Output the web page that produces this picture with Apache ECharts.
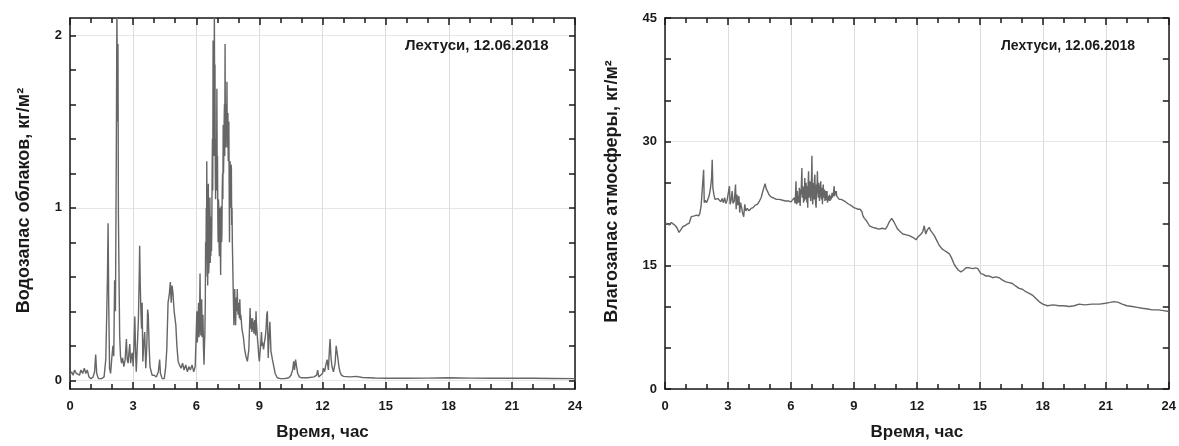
<!DOCTYPE html>
<html>
<head>
<meta charset="utf-8">
<script src="https://cdn.jsdelivr.net/npm/echarts@6/dist/echarts.min.js"></script>
<style>html,body{margin:0;padding:0;background:#fff}#c{width:1179px;height:446px}</style>
</head>
<body>
<div id="c"></div>
<script>
// ---- data (time in hours) ----
const stationLabel = 'Лехтуси, 12.06.2018';
const xAxisTitle = 'Время, час';
const lwpTitle = 'Водозапас облаков, кг/м²';
const pwvTitle = 'Влагозапас атмосферы, кг/м²';

const lwpLabelValues = [0, 1, 2];
const lwpTickValues = [0, 0.2, 0.4, 0.6, 0.8, 1.0, 1.2, 1.4, 1.6, 1.8, 2.0];

// cloud liquid water path, kg/m2
const lwpData = [
[0,0.03],[0.08,0.05],[0.15,0.03],[0.22,0.06],[0.3,0.04],[0.38,0.05],[0.45,0.03],[0.52,0.06],[0.6,0.04],[0.68,0.07],[0.75,0.04],[0.82,0.06],[0.9,0.02],[1.0,0.01],[1.1,0.02],[1.17,0.05],[1.22,0.15],[1.27,0.04],[1.35,0.01],[1.5,0.01],[1.62,0.02],[1.7,0.12],[1.74,0.35],[1.78,0.6],[1.81,0.91],[1.84,0.45],[1.88,0.07],[1.93,0.04],[1.98,0.12],[2.04,0.2],[2.08,0.14],[2.12,0.58],[2.16,0.4],[2.2,1.3],[2.23,2.15],[2.26,1.5],[2.28,1.95],[2.3,0.97],[2.33,0.6],[2.36,0.26],[2.4,0.14],[2.45,0.1],[2.5,0.13],[2.56,0.08],[2.62,0.12],[2.68,0.24],[2.72,0.12],[2.76,0.1],[2.8,0.16],[2.84,0.21],[2.88,0.1],[2.92,0.14],[2.96,0.16],[3.0,0.08],[3.04,0.2],[3.08,0.37],[3.12,0.15],[3.15,0.05],[3.2,0.2],[3.25,0.35],[3.29,0.6],[3.31,0.78],[3.34,0.55],[3.37,0.4],[3.4,0.3],[3.43,0.45],[3.46,0.11],[3.5,0.2],[3.55,0.28],[3.6,0.07],[3.65,0.2],[3.69,0.41],[3.72,0.38],[3.76,0.2],[3.8,0.08],[3.84,0.06],[3.9,0.03],[4.0,0.03],[4.1,0.02],[4.2,0.05],[4.26,0.12],[4.3,0.04],[4.38,0.01],[4.48,0.01],[4.55,0.08],[4.6,0.18],[4.66,0.45],[4.72,0.5],[4.77,0.57],[4.81,0.45],[4.85,0.55],[4.89,0.51],[4.95,0.4],[5.03,0.32],[5.08,0.2],[5.14,0.11],[5.2,0.09],[5.28,0.07],[5.35,0.1],[5.42,0.06],[5.5,0.09],[5.58,0.05],[5.65,0.08],[5.72,0.06],[5.8,0.09],[5.88,0.05],[5.95,0.08],[6.0,0.07],
[6.03,0.4],[6.05,0.22],[6.07,0.28],[6.09,0.36],[6.11,0.45],[6.13,0.25],[6.15,0.3],[6.18,0.62],[6.2,0.35],[6.22,0.26],[6.24,0.4],[6.26,0.47],[6.28,0.25],[6.3,0.3],[6.32,0.38],[6.34,0.2],[6.37,0.09],[6.39,0.2],[6.41,0.28],[6.43,0.45],
[6.445,0.8],[6.46,0.6],[6.475,1.0],[6.49,0.7],[6.5,1.27],[6.515,0.85],[6.53,0.75],[6.545,0.55],[6.56,0.9],[6.575,1.14],[6.59,0.62],[6.605,0.66],[6.62,0.95],[6.635,0.7],[6.65,1.06],[6.665,0.68],[6.68,0.9],[6.695,0.72],[6.71,0.95],[6.725,0.75],[6.74,0.89],[6.755,1.2],[6.77,1.4],[6.785,1.1],[6.8,1.97],[6.815,1.5],[6.83,1.6],[6.845,1.3],[6.86,2.15],[6.875,1.6],[6.89,1.83],[6.905,1.2],[6.92,1.05],[6.935,1.3],[6.95,1.4],[6.965,1.1],[6.98,1.69],[6.995,1.2],[7.01,1.3],[7.025,0.95],[7.04,0.8],[7.055,1.05],[7.07,1.01],[7.085,0.78],[7.1,0.72],[7.115,0.95],[7.13,1.0],[7.145,0.75],[7.16,0.61],[7.175,0.9],[7.19,1.01],[7.205,0.8],[7.22,0.85],[7.235,1.1],[7.25,1.2],[7.265,1.05],[7.28,1.48],[7.295,1.2],[7.31,1.3],[7.325,1.5],[7.34,1.6],[7.355,1.3],[7.37,1.95],[7.385,1.4],[7.4,1.35],[7.415,1.55],[7.43,1.6],[7.445,1.4],[7.46,1.73],[7.475,1.35],[7.49,1.4],[7.505,1.55],[7.52,1.27],[7.535,1.45],[7.55,1.5],[7.565,1.1],[7.58,0.8],[7.595,1.15],[7.61,1.27],[7.625,1.0],[7.64,1.1],[7.655,1.25],[7.67,1.23],[7.685,0.9],[7.7,1.0],[7.715,0.8],[7.73,0.7],
[7.76,0.5],[7.79,0.32],[7.81,0.45],[7.83,0.53],[7.85,0.4],[7.87,0.32],[7.89,0.42],[7.91,0.48],[7.93,0.4],[7.95,0.53],[7.97,0.42],[7.99,0.38],[8.01,0.45],[8.03,0.4],[8.05,0.36],[8.07,0.47],[8.1,0.35],[8.12,0.38],[8.17,0.3],[8.24,0.25],[8.3,0.18],[8.36,0.14],[8.43,0.11],[8.5,0.18],[8.56,0.42],[8.58,0.3],[8.6,0.3],[8.62,0.36],[8.64,0.28],[8.66,0.33],[8.68,0.36],[8.7,0.29],[8.72,0.34],[8.74,0.27],[8.76,0.28],[8.78,0.35],[8.8,0.32],[8.82,0.26],[8.84,0.4],[8.86,0.33],[8.88,0.3],[8.91,0.24],[8.94,0.2],[8.97,0.14],[9.0,0.11],[9.03,0.16],[9.06,0.2],[9.1,0.28],[9.13,0.2],[9.15,0.22],[9.2,0.18],[9.24,0.22],[9.28,0.25],[9.32,0.3],[9.35,0.38],[9.38,0.4],[9.42,0.13],[9.46,0.25],[9.5,0.34],[9.55,0.17],[9.62,0.12],[9.67,0.09],[9.75,0.04],[9.85,0.015],[10.0,0.01],[10.2,0.01],[10.4,0.015],[10.5,0.03],[10.58,0.06],[10.63,0.11],[10.67,0.06],[10.72,0.12],[10.77,0.12],[10.82,0.04],[10.9,0.02],[11.0,0.015],[11.3,0.015],[11.6,0.02],[11.72,0.03],[11.77,0.06],[11.82,0.02],[11.9,0.03],[12.0,0.04],[12.04,0.07],[12.1,0.05],[12.16,0.09],[12.22,0.12],[12.28,0.06],[12.33,0.18],[12.36,0.24],[12.4,0.14],[12.45,0.08],[12.52,0.05],[12.6,0.1],[12.65,0.2],[12.69,0.21],[12.73,0.13],[12.78,0.08],[12.83,0.05],[12.9,0.03],[13.0,0.023],[13.3,0.02],[13.6,0.023],[13.9,0.017],[14.5,0.014],[15,0.012],[16,0.012],[17,0.013],[18,0.015],[19,0.013],[20,0.012],[21,0.013],[22,0.012],[23,0.011],[24,0.01]
];

// precipitable water vapour, kg/m2
const pwvData = [
[0,20.0],[0.1,20.1],[0.2,19.9],[0.3,20.2],[0.4,20.0],[0.5,19.8],[0.58,19.5],[0.67,19.0],[0.75,19.3],[0.85,19.7],[0.95,19.8],[1.05,20.0],[1.15,20.1],[1.22,20.3],[1.25,20.9],[1.32,20.8],[1.4,21.0],[1.5,21.1],[1.6,21.0],[1.66,21.3],[1.72,22.2],[1.78,22.4],[1.84,26.6],[1.87,22.6],[1.92,22.9],[1.98,22.6],[2.04,23.0],[2.1,23.4],[2.16,24.2],[2.22,25.6],[2.25,27.8],[2.28,24.4],[2.33,23.6],[2.38,23.0],[2.45,22.8],[2.52,23.1],[2.6,23.0],[2.66,22.7],[2.72,23.1],[2.78,22.6],[2.84,23.2],[2.9,22.5],[2.96,22.9],[3.02,22.7],[3.07,24.6],[3.1,22.4],[3.15,22.9],[3.2,24.0],[3.24,22.5],[3.3,22.8],[3.36,24.8],[3.39,21.8],[3.43,23.6],[3.47,22.3],[3.52,23.4],[3.56,21.4],[3.6,22.6],[3.65,22.0],[3.7,21.3],[3.75,20.9],[3.8,22.4],[3.85,21.6],[3.92,21.9],[4.0,21.6],[4.1,21.9],[4.2,22.0],[4.3,22.3],[4.4,22.4],[4.5,22.8],[4.58,23.2],[4.65,23.9],[4.72,24.5],[4.77,24.9],[4.82,24.3],[4.88,24.0],[4.95,23.6],[5.05,23.3],[5.15,23.2],[5.3,23.0],[5.45,23.0],[5.6,22.9],[5.75,22.8],[5.9,22.8],[6.0,22.7],[6.08,22.9],[6.16,23.2],
[6.2,22.5],[6.22,23.6],[6.24,25.2],[6.26,22.8],[6.28,22.4],[6.3,24.0],[6.32,23.8],[6.34,22.6],[6.36,23.4],[6.38,22.6],[6.4,24.4],[6.42,23.0],[6.44,22.2],[6.46,24.2],[6.48,23.6],[6.5,25.0],[6.52,26.8],[6.54,23.2],[6.56,24.0],[6.58,24.6],[6.6,22.6],[6.62,23.8],[6.64,22.8],[6.66,25.6],[6.68,24.0],[6.7,23.0],[6.72,25.0],[6.74,24.2],[6.76,22.6],[6.78,24.6],[6.8,22.0],[6.82,25.0],[6.84,26.4],[6.86,23.2],[6.88,23.4],[6.9,25.2],[6.92,24.4],[6.94,22.8],[6.96,22.6],[6.98,25.6],[7.0,28.3],[7.02,23.0],[7.04,22.4],[7.06,25.0],[7.08,24.2],[7.1,23.0],[7.12,25.4],[7.14,26.0],[7.16,23.4],[7.18,22.4],[7.2,22.0],[7.22,24.8],[7.24,23.8],[7.26,26.4],[7.28,24.0],[7.3,23.2],[7.32,25.0],[7.34,24.4],[7.36,22.8],[7.38,22.6],[7.4,24.6],[7.42,25.2],[7.44,23.4],[7.46,23.0],[7.48,24.4],[7.5,22.4],[7.52,23.8],[7.54,24.8],[7.56,23.2],[7.58,23.0],[7.6,24.2],[7.62,22.8],[7.64,23.6],[7.66,24.0],[7.68,22.9],[7.7,23.2],[7.72,24.0],[7.74,22.6],[7.76,23.4],[7.78,23.0],[7.8,23.4],[7.82,22.8],[7.84,23.6],[7.86,22.8],[7.88,23.4],[7.9,23.6],[7.92,23.0],[7.94,23.2],[7.96,23.8],[7.98,23.2],[8.0,23.8],[8.02,23.4],[8.04,24.2],[8.06,24.6],[8.08,23.4],[8.1,23.2],[8.12,24.0],[8.14,23.6],[8.16,24.0],[8.18,23.4],[8.2,23.4],
[8.3,23.0],[8.4,23.0],[8.55,22.8],[8.7,22.5],[8.78,22.4],[8.9,22.2],[9.0,22.0],[9.1,21.9],[9.2,21.8],[9.3,21.8],[9.38,21.5],[9.43,21.0],[9.5,20.7],[9.6,20.4],[9.74,19.8],[9.9,19.6],[10.05,19.5],[10.2,19.4],[10.35,19.5],[10.5,19.4],[10.6,19.8],[10.67,20.2],[10.8,20.7],[10.92,20.2],[11.0,19.8],[11.08,19.4],[11.2,19.1],[11.33,18.8],[11.5,18.7],[11.64,18.6],[11.8,18.4],[11.88,18.5],[11.96,18.1],[12.04,18.4],[12.12,18.4],[12.2,18.8],[12.28,19.1],[12.35,19.8],[12.42,18.8],[12.5,19.3],[12.59,19.6],[12.66,19.2],[12.72,19.3],[12.83,18.6],[12.95,18.0],[13.07,17.4],[13.2,17.0],[13.31,16.8],[13.43,16.6],[13.55,16.4],[13.63,16.0],[13.7,15.6],[13.78,15.1],[13.86,14.8],[13.98,14.4],[14.1,14.2],[14.22,14.4],[14.34,14.7],[14.5,14.7],[14.66,14.6],[14.8,14.7],[14.9,14.6],[15.05,14.0],[15.17,13.9],[15.29,13.7],[15.45,13.7],[15.61,13.5],[15.76,13.6],[15.92,13.5],[16.08,13.2],[16.24,13.0],[16.4,12.9],[16.55,12.8],[16.7,12.5],[16.87,12.2],[17.03,12.1],[17.19,11.8],[17.35,11.6],[17.5,11.4],[17.66,11.0],[17.82,10.6],[18.0,10.3],[18.22,10.1],[18.5,10.2],[18.77,10.1],[19.0,10.1],[19.25,10.0],[19.5,10.1],[19.72,10.3],[20.0,10.2],[20.35,10.3],[20.7,10.3],[20.99,10.4],[21.2,10.5],[21.39,10.6],[21.6,10.5],[21.78,10.3],[22.0,10.1],[22.26,10.0],[22.5,9.9],[22.73,9.8],[23.0,9.7],[23.2,9.6],[23.5,9.6],[23.75,9.5],[24.0,9.4]
];

// ---- styling ----
const FONT = "'Liberation Sans', Arial, sans-serif";
const INK = '#1a1a1a';
const GRID = '#dcdcdc';
const LINE = '#666666';

function xAxisCfg(g, pos) {
  const bottom = pos === 'bottom';
  return {
    type: 'value', gridIndex: g, position: pos, min: 0, max: 24, interval: 3,
    name: bottom ? xAxisTitle : '', nameLocation: 'middle', nameGap: 35,
    nameTextStyle: { fontFamily: FONT, fontSize: 17, fontWeight: 'bold', color: INK },
    axisLine: { show: true, onZero: false, lineStyle: { color: INK, width: 1.5 } },
    axisTick: { show: true, inside: true, length: 7, lineStyle: { color: INK, width: 1.5 } },
    minorTick: { show: true, splitNumber: 3, length: 5, lineStyle: { color: INK, width: 1.5 } },
    axisLabel: { show: bottom, fontFamily: FONT, fontSize: 13, fontWeight: 'bold', color: INK, margin: 11 },
    splitLine: { show: bottom, lineStyle: { color: GRID, width: 1 } },
    minorSplitLine: { show: false }
  };
}

function yCommon(g, pos, name, gap, namePad) {
  const left = pos === 'left';
  return {
    type: 'value', gridIndex: g, position: pos,
    name: left ? name : '', nameLocation: 'middle', nameGap: gap, nameRotate: 90,
    nameTextStyle: { fontFamily: FONT, fontSize: 18, fontWeight: 'bold', color: INK, padding: namePad },
    axisLine: { show: true, onZero: false, lineStyle: { color: INK, width: 1.5 } },
    axisTick: { show: true, inside: true, length: 6, lineStyle: { color: INK, width: 1.5 } },
    axisLabel: { show: left, fontFamily: FONT, fontSize: 13, fontWeight: 'bold', color: INK, margin: 8 },
    splitLine: { show: left, lineStyle: { color: '#e6e6e6', width: 1 } }
  };
}

function lwpY(pos) {
  const a = yCommon(0, pos, lwpTitle, 37, [0, 0, 0, 6]);
  a.min = -0.05; a.max = 2.1; a.splitNumber = 2;
  a.axisTick.customValues = lwpTickValues;
  a.axisLabel.customValues = lwpLabelValues;
  a.splitLine = { show: false };
  return a;
}
// grid-only axis for horizontal lines at 0, 1, 2
const lwpGridAxis = {
  type: 'value', gridIndex: 0, position: 'left', min: -0.05, max: 2.1, splitNumber: 2,
  axisLine: { show: false }, axisTick: { show: false }, axisLabel: { show: false },
  splitLine: { show: true, lineStyle: { color: '#e6e6e6', width: 1 } }
};
function pwvY(pos) {
  const a = yCommon(1, pos, pwvTitle, 44, [0, 0, 0, 24]);
  a.min = 0; a.max = 45; a.interval = 15;
  a.minorTick = { show: true, splitNumber: 3, length: 6, lineStyle: { color: INK, width: 1.5 } };
  return a;
}

const chart = echarts.init(document.getElementById('c'), null, { renderer: 'canvas' });
chart.setOption({
  animation: false,
  backgroundColor: '#fff',
  title: [
    { text: stationLabel, left: 405, top: 38, padding: 0,
      textStyle: { fontFamily: FONT, fontSize: 15, fontWeight: 'bold', color: INK } },
    { text: stationLabel, left: 1001, top: 39, padding: 0,
      textStyle: { fontFamily: FONT, fontSize: 14, fontWeight: 'bold', color: INK } }
  ],
  grid: [
    { left: 70, right: 604, top: 18, bottom: 53 },
    { left: 665, right: 9, top: 18, bottom: 53 }
  ],
  xAxis: [xAxisCfg(0, 'bottom'), xAxisCfg(0, 'top'), xAxisCfg(1, 'bottom'), xAxisCfg(1, 'top')],
  yAxis: [lwpGridAxis, lwpY('left'), lwpY('right'), pwvY('left'), pwvY('right')],
  series: [
    { type: 'line', xAxisIndex: 0, yAxisIndex: 1, data: lwpData, showSymbol: false, symbol: 'none',
      clip: true, lineStyle: { color: LINE, width: 1.4 }, z: 3 },
    { type: 'line', xAxisIndex: 2, yAxisIndex: 3, data: pwvData, showSymbol: false, symbol: 'none',
      clip: true, lineStyle: { color: LINE, width: 1.4 }, z: 3 }
  ]
});
</script>
</body>
</html>
